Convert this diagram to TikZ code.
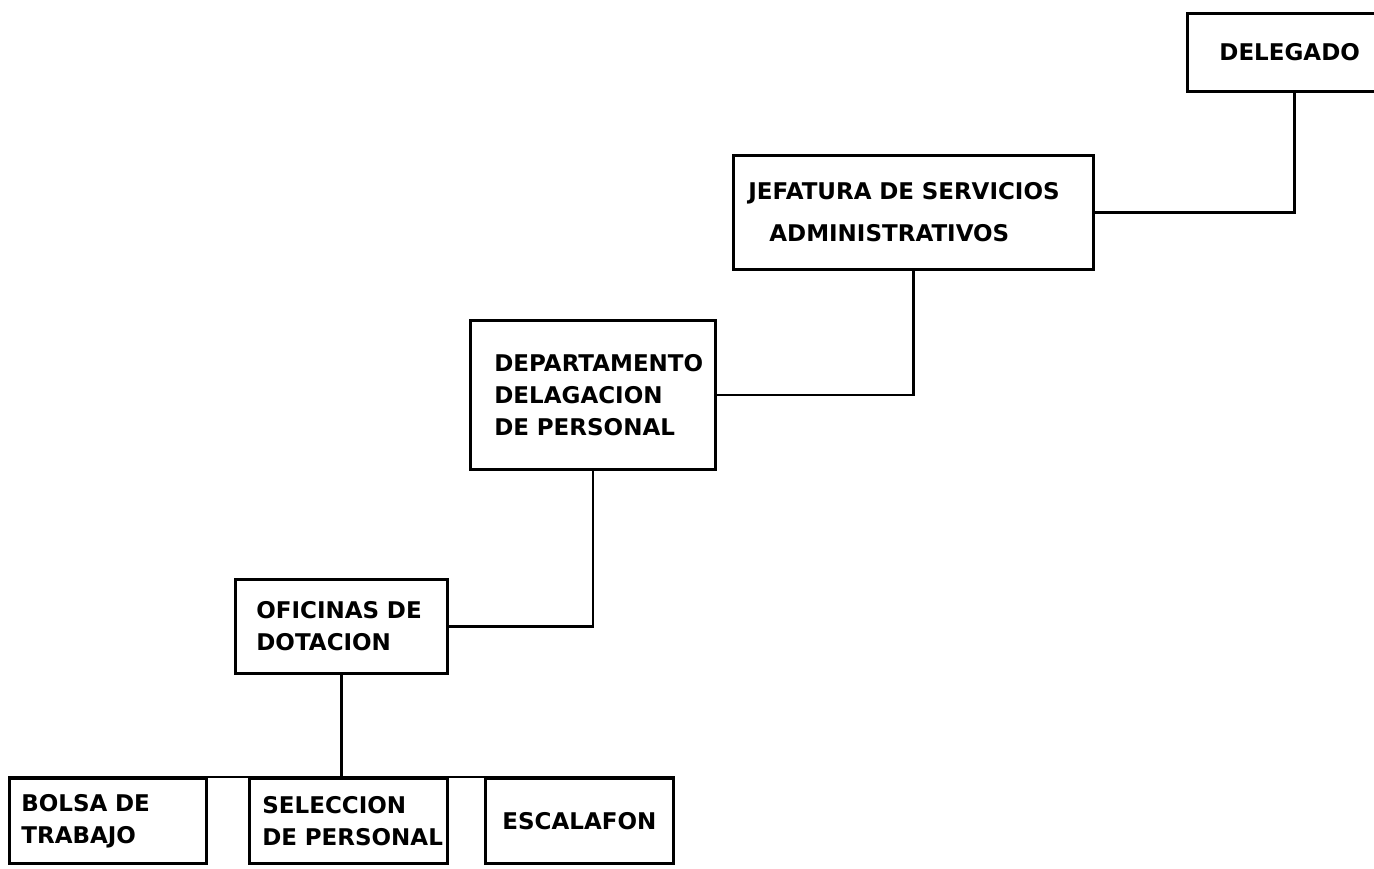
\documentclass[tikz,border=0pt]{standalone}
\usepackage{fontspec}
\newfontfamily\rotulofont{DejaVu Sans}
\newcommand{\rotulo}{\rotulofont\bfseries\fontsize{23}{32}\selectfont\hyphenpenalty=10000 }
\begin{document}
\begin{tikzpicture}[x=1pt, y=-1pt,
    caja/.style={rectangle, draw=black, line width=2.8pt, anchor=north west, inner ysep=0pt, font=\rotulo},
    linea/.style={line width=2.8pt}]
\useasboundingbox (0,0) rectangle (1374,868);
\node [caja, minimum height=78pt, inner xsep=32pt, text width=150pt, align=left] (delegado) at (1186, 12) {DELEGADO};
\node [caja, minimum height=114pt, inner xsep=15pt, text width=330pt, align=left] (jefatura) at (732, 154) {JEFATURA DE SERVICIOS\\[10pt]\hspace*{21pt}ADMINISTRATIVOS};
\node [caja, minimum height=149pt, inner xsep=24pt, text width=197pt, align=left] (depto) at (469, 319) {DEPARTAMENTO\\DELAGACION\\DE PERSONAL};
\node [caja, minimum height=94pt, inner xsep=21pt, text width=170pt, align=left] (oficinas) at (234, 578) {OFICINAS DE\\DOTACION};
\node [caja, minimum height=85pt, inner xsep=12pt, text width=173pt, align=left] (bolsa) at (8, 777) {BOLSA DE\\TRABAJO};
\node [caja, minimum height=85pt, inner xsep=13pt, text width=172pt, align=left] (seleccion) at (248, 777) {SELECCION\\DE~PERSONAL};
\node [caja, minimum width=188pt, minimum height=85pt, align=center] (escalafon) at (484, 777) {ESCALAFON};
\draw [linea] (delegado.south) |- (jefatura.east);
\draw [linea] (jefatura.south) |- (depto.east);
\draw [linea] (depto.south) |- (oficinas.east);
\draw [linea] (oficinas.south) -- (oficinas.south |- seleccion.north);
\draw [linea] (bolsa.north west) -- (escalafon.north east);
\end{tikzpicture}
\end{document}
